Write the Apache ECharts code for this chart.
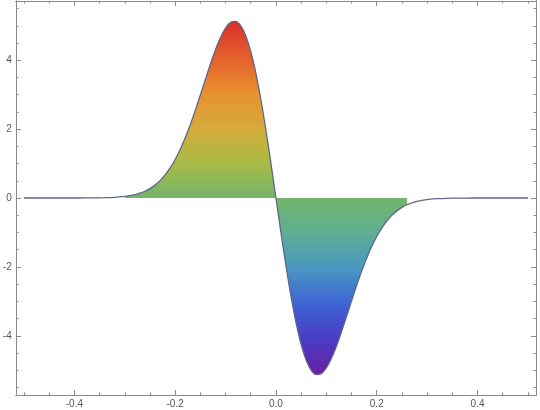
<!DOCTYPE html>
<html>
<head>
<meta charset="utf-8">
<script src="https://cdn.jsdelivr.net/npm/echarts@6/dist/echarts.min.js"></script>
<style>html,body{margin:0;padding:0;background:#fff}#c{width:540px;height:410px}</style>
</head>
<body>
<div id="c"></div>
<script>
const xValues = [-0.50,-0.45,-0.40,-0.38,-0.36,-0.34,-0.32,
 -0.30,-0.29,-0.28,-0.27,-0.26,-0.25,-0.24,-0.23,-0.22,-0.21,
 -0.20,-0.19,-0.18,-0.17,-0.16,-0.15,-0.14,-0.13,-0.12,-0.11,
 -0.10,-0.09,-0.08,-0.07,-0.06,-0.05,-0.04,-0.03,-0.02,-0.01,
 0.00,
 0.01,0.02,0.03,0.04,0.05,0.06,0.07,0.08,0.09,0.10,
 0.11,0.12,0.13,0.14,0.15,0.16,0.17,0.18,0.19,0.20,
 0.21,0.22,0.23,0.24,0.25,0.26,0.27,0.28,0.29,0.30,
 0.32,0.34,0.36,0.38,0.40,0.45,0.50];
const yValues = [0,0,0,0.001,0.003,0.008,0.019,
 0.045,0.066,0.097,0.139,0.196,0.273,0.374,0.504,0.669,0.872,
 1.119,1.411,1.748,2.129,2.545,2.989,3.443,3.889,4.304,4.662,
 4.936,5.099,5.128,5.003,4.713,4.254,3.633,2.867,1.982,1.013,
 0,
 -1.013,-1.982,-2.867,-3.633,-4.254,-4.713,-5.003,-5.128,-5.099,-4.936,
 -4.662,-4.304,-3.889,-3.443,-2.989,-2.545,-2.129,-1.748,-1.411,-1.119,
 -0.872,-0.669,-0.504,-0.374,-0.273,-0.196,-0.139,-0.097,-0.066,-0.045,
 -0.019,-0.008,-0.003,-0.001,0,0,0];
const fillStart = -0.30;
const fillEnd = 0.26;
const xTickLabels = [-0.4,-0.2,0.0,0.2,0.4];
const yTickLabels = [-4,-2,0,2,4];
const xMinorTicks = [-0.5,-0.45,-0.35,-0.3,-0.25,-0.15,-0.1,-0.05,0.05,0.1,0.15,0.25,0.3,0.35,0.45,0.5];
const yMinorTicks = [-5.5,-5,-4.5,-3.5,-3,-2.5,-1.5,-1,-0.5,0.5,1,1.5,2.5,3,3.5,4.5,5,5.5];

const lineData = xValues.map((x,i)=>[x,yValues[i]]);
const fillData = lineData.filter(p => p[0] >= fillStart - 1e-9 && p[0] <= fillEnd + 1e-9);

const axisColor = '#8a8a8a';
const labelStyle = {color:'#555', fontSize:10, fontFamily:'Liberation Sans, Arial, sans-serif'};
function xAx(pos, ticks, len, labels){
  return {type:'value', min:-0.516, max:0.516, position:pos,
    axisLine:{show:true, onZero:false, lineStyle:{color:axisColor, width:1}},
    axisTick:{show:true, inside:true, length:len, customValues:ticks, lineStyle:{color:axisColor}},
    axisLabel: labels ? Object.assign({show:true, margin:4, customValues:ticks, formatter:v=>v.toFixed(1)}, labelStyle) : {show:false},
    splitLine:{show:false}};
}
function yAx(pos, ticks, len, labels){
  return {type:'value', min:-5.72, max:5.72, position:pos,
    axisLine:{show:true, onZero:false, lineStyle:{color:axisColor, width:1}},
    axisTick:{show:true, inside:true, length:len, customValues:ticks, lineStyle:{color:axisColor}},
    axisLabel: labels ? Object.assign({show:true, margin:4, customValues:ticks, formatter:v=>String(v)}, labelStyle) : {show:false},
    splitLine:{show:false}};
}
const chart = echarts.init(document.getElementById('c'), null, {renderer:'canvas'});
chart.setOption({
  animation:false,
  grid:{left:13, right:4, top:1, bottom:15, containLabel:false},
  xAxis:[xAx('bottom', xTickLabels, 5, true), xAx('bottom', xMinorTicks, 2.5, false),
         xAx('top', xTickLabels, 5, false), xAx('top', xMinorTicks, 2.5, false)],
  yAxis:[yAx('left', yTickLabels, 5, true), yAx('left', yMinorTicks, 2.5, false),
         yAx('right', yTickLabels, 5, false), yAx('right', yMinorTicks, 2.5, false)],
  series:[
    {type:'line', xAxisIndex:0, yAxisIndex:0, data:fillData, showSymbol:false, smooth:0.3,
     lineStyle:{width:0}, z:1,
     areaStyle:{origin:0, opacity:1, color:new echarts.graphic.LinearGradient(0,0,0,1,[
       {offset:0, color:'#d8302a'},
       {offset:0.1, color:'#e45f2c'},
       {offset:0.2, color:'#e8902f'},
       {offset:0.3, color:'#d6aa3a'},
       {offset:0.4, color:'#a9bb45'},
       {offset:0.5, color:'#74b46c'},
       {offset:0.6, color:'#5eae93'},
       {offset:0.7, color:'#4a96c0'},
       {offset:0.8, color:'#3e64d4'},
       {offset:0.9, color:'#4a3cc4'},
       {offset:1, color:'#6a1fa2'}])}},
    {type:'line', xAxisIndex:0, yAxisIndex:0, data:lineData, showSymbol:false, smooth:0.3, z:2,
     lineStyle:{color:'#5d6888', width:1.3}}
  ]
});
</script>
</body>
</html>
